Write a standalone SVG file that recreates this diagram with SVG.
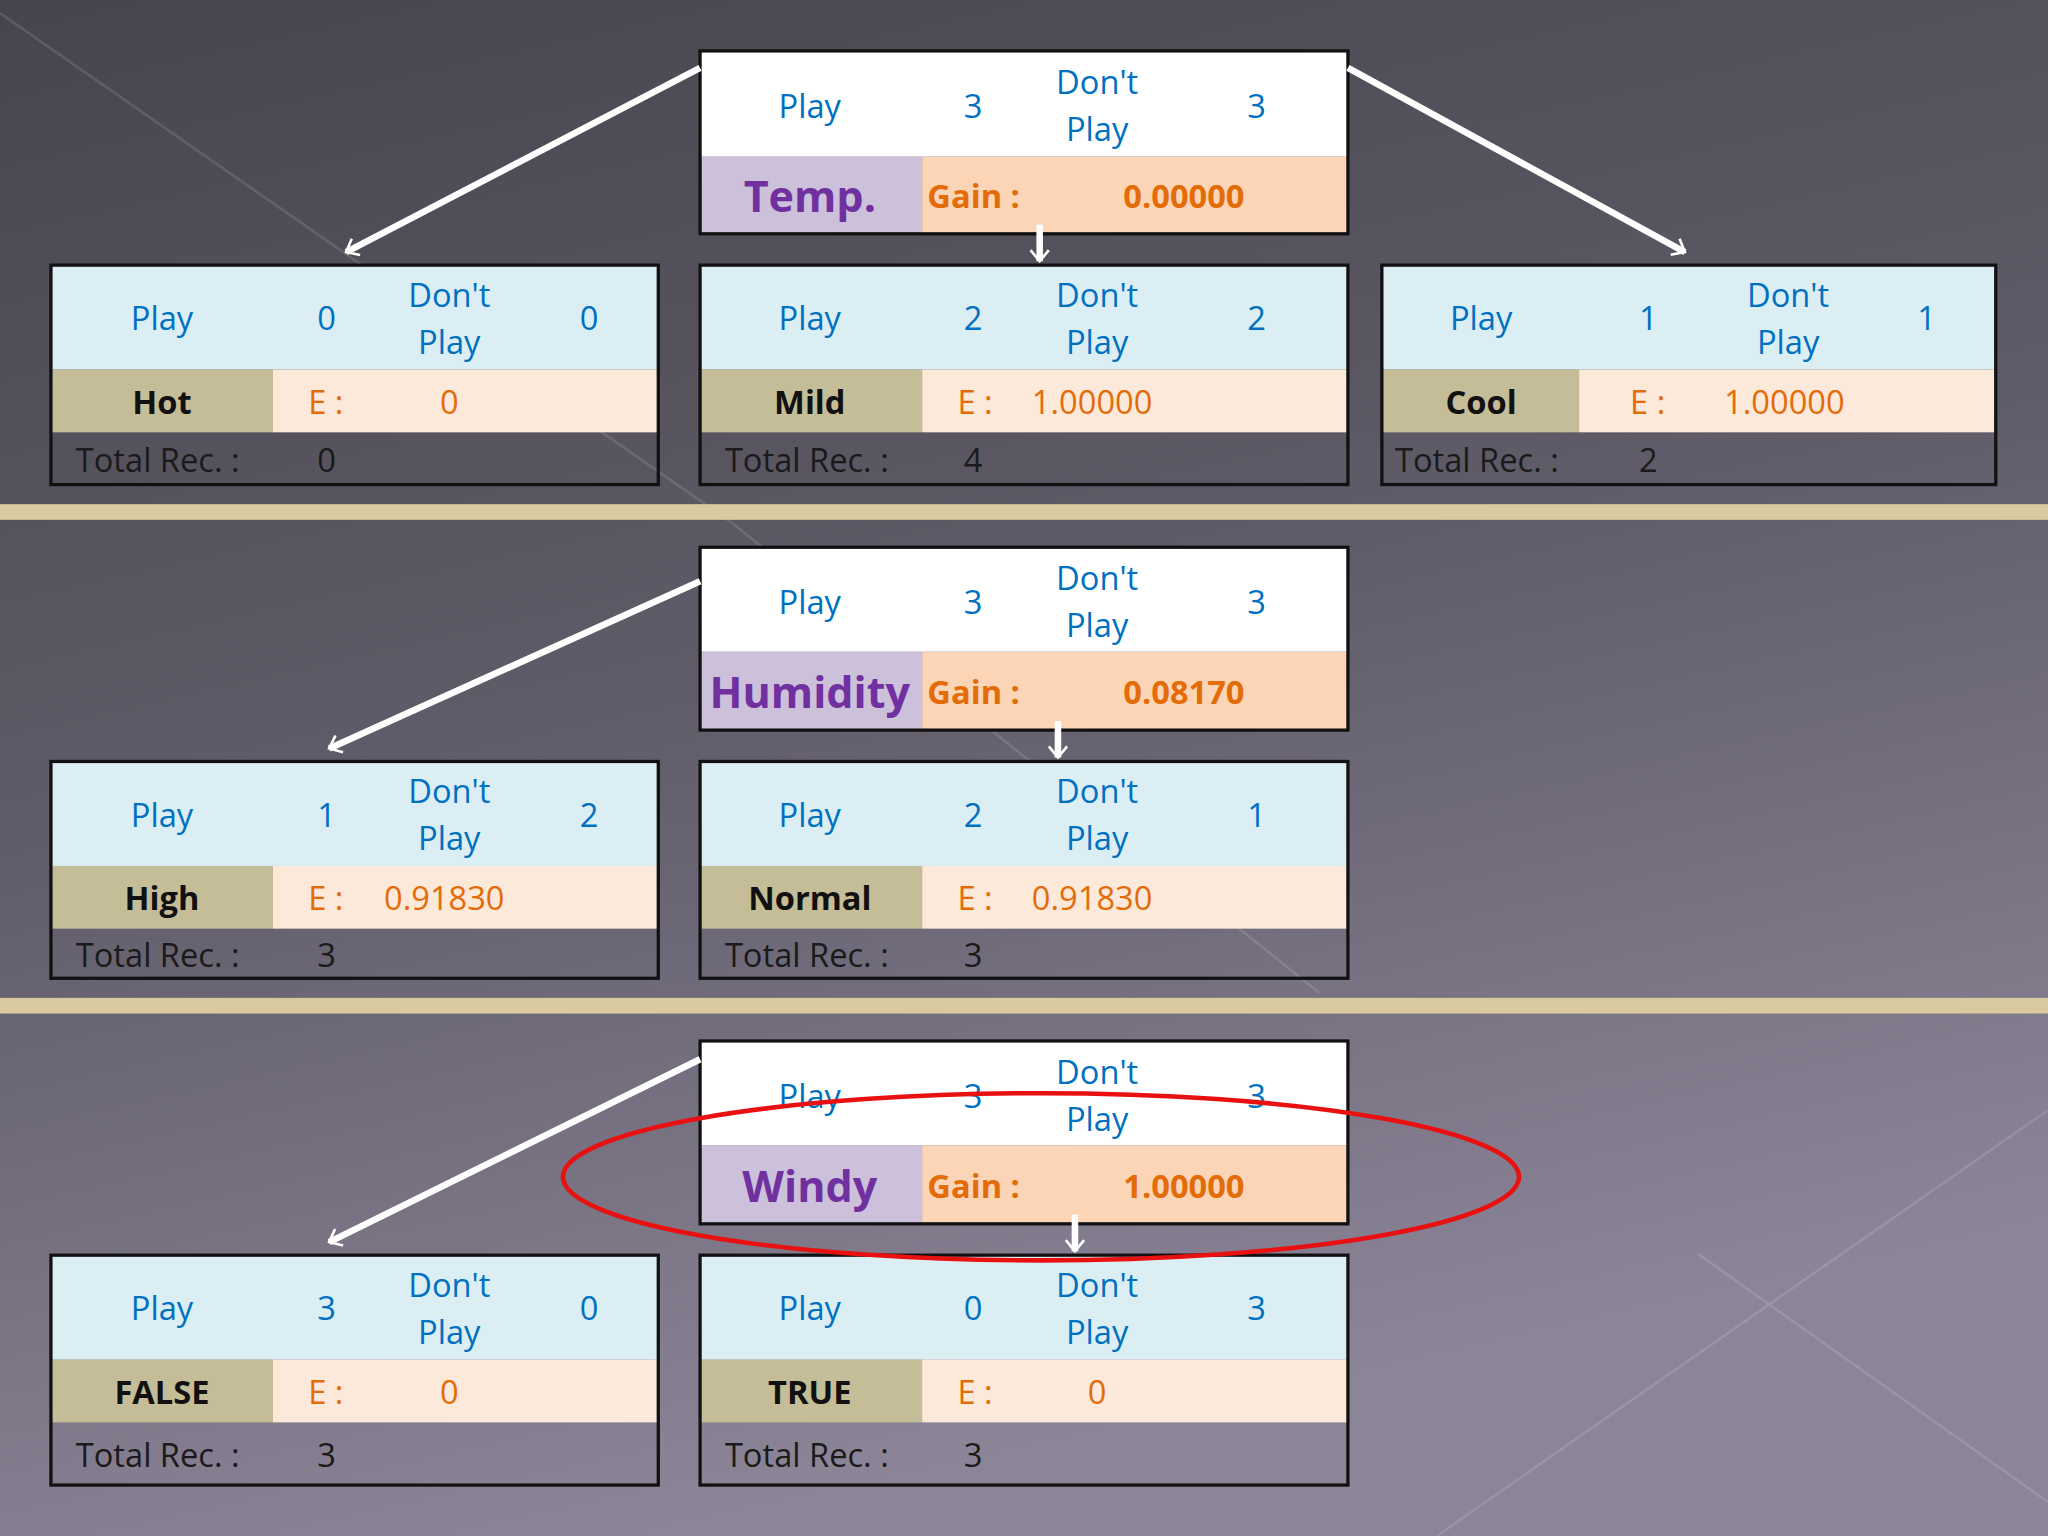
<svg xmlns="http://www.w3.org/2000/svg" width="2048" height="1536" viewBox="0 0 2048 1536">
<defs>
<linearGradient id="bg" x1="0" y1="0" x2="0.3" y2="1"><stop offset="0" stop-color="#46454d"/><stop offset="0.5" stop-color="#5f5b68"/><stop offset="1" stop-color="#8c8598"/></linearGradient>
<marker id="ah" viewBox="0 0 10 10" refX="9" refY="5" markerWidth="5" markerHeight="5" orient="auto" markerUnits="userSpaceOnUse" overflow="visible"><path d="M-8,-9 L9,5 L-8,19" fill="none" stroke="#fff" stroke-width="4"/></marker>
<style>
text{font-family:"Open Sans","Noto Sans",sans-serif;font-size:25px}
.b{fill:#0070c0;text-anchor:middle}
.o{fill:#e36c09}
.ob{fill:#e36c09;font-weight:bold}
.k{fill:#111;font-weight:bold;text-anchor:middle}
.t{fill:#1a1a1a}
.p{fill:#7030a0;font-weight:bold;font-size:33px;text-anchor:middle}
.bx{fill:none;stroke:#111;stroke-width:2.5}
.c line{stroke:#fff;stroke-width:5}
</style>
</defs>
<rect width="2048" height="1536" fill="url(#bg)"/>
<g transform="scale(1.30612)">
<g opacity="0.12" stroke="#fff" stroke-width="2" fill="none"><path d="M0,10 L560,400 L1010,760"/><path d="M1568,850 L1100,1176"/><path d="M1568,1150 L1300,960"/></g>
<rect x="0" y="386" width="1568" height="12" fill="#d9cb9f"/>
<rect x="0" y="764" width="1568" height="12" fill="#d9cb9f"/>

<g id="temp"><rect x="536" y="39" width="496" height="81" fill="#fff"/><rect x="536" y="120" width="170" height="59" fill="#ccc0da"/><rect x="706" y="120" width="326" height="59" fill="#fbd5b5"/><rect class="bx" x="536" y="39" width="496" height="140"/>
<text class="b" x="620" y="90">Play</text><text class="b" x="745" y="90">3</text><text class="b" x="840" y="72">Don't</text><text class="b" x="840" y="108">Play</text><text class="b" x="962" y="90">3</text>
<text class="p" x="620" y="162">Temp.</text><text class="ob" x="710" y="159">Gain :</text><text class="ob" x="860" y="159">0.00000</text></g>

<g id="hot"><rect x="39" y="203" width="465" height="80" fill="#dbeef4"/><rect x="39" y="283" width="170" height="48" fill="#c4bd97"/><rect x="209" y="283" width="295" height="48" fill="#fde9d9"/><rect class="bx" x="39" y="203" width="465" height="168"/>
<text class="b" x="124" y="253">Play</text><text class="b" x="250" y="253">0</text><text class="b" x="344" y="235">Don't</text><text class="b" x="344" y="271">Play</text><text class="b" x="451" y="253">0</text>
<text class="k" x="124" y="317">Hot</text><text class="o" x="236" y="317">E :</text><text class="o" x="344" y="317" text-anchor="middle">0</text>
<text class="t" x="58" y="361">Total Rec. :</text><text class="t" x="250" y="361" text-anchor="middle">0</text></g>

<g id="mild"><rect x="536" y="203" width="496" height="80" fill="#dbeef4"/><rect x="536" y="283" width="170" height="48" fill="#c4bd97"/><rect x="706" y="283" width="326" height="48" fill="#fde9d9"/><rect class="bx" x="536" y="203" width="496" height="168"/>
<text class="b" x="620" y="253">Play</text><text class="b" x="745" y="253">2</text><text class="b" x="840" y="235">Don't</text><text class="b" x="840" y="271">Play</text><text class="b" x="962" y="253">2</text>
<text class="k" x="620" y="317">Mild</text><text class="o" x="733" y="317">E :</text><text class="o" x="790" y="317">1.00000</text>
<text class="t" x="555" y="361">Total Rec. :</text><text class="t" x="745" y="361" text-anchor="middle">4</text></g>

<g id="cool"><rect x="1058" y="203" width="470" height="80" fill="#dbeef4"/><rect x="1058" y="283" width="151" height="48" fill="#c4bd97"/><rect x="1209" y="283" width="319" height="48" fill="#fde9d9"/><rect class="bx" x="1058" y="203" width="470" height="168"/>
<text class="b" x="1134" y="253">Play</text><text class="b" x="1262" y="253">1</text><text class="b" x="1369" y="235">Don't</text><text class="b" x="1369" y="271">Play</text><text class="b" x="1475" y="253">1</text>
<text class="k" x="1134" y="317">Cool</text><text class="o" x="1248" y="317">E :</text><text class="o" x="1320" y="317">1.00000</text>
<text class="t" x="1068" y="361">Total Rec. :</text><text class="t" x="1262" y="361" text-anchor="middle">2</text></g>

<g id="humidity"><rect x="536" y="419" width="496" height="80" fill="#fff"/><rect x="536" y="499" width="170" height="60" fill="#ccc0da"/><rect x="706" y="499" width="326" height="60" fill="#fbd5b5"/><rect class="bx" x="536" y="419" width="496" height="140"/>
<text class="b" x="620" y="470">Play</text><text class="b" x="745" y="470">3</text><text class="b" x="840" y="452">Don't</text><text class="b" x="840" y="488">Play</text><text class="b" x="962" y="470">3</text>
<text class="p" x="620" y="542">Humidity</text><text class="ob" x="710" y="539">Gain :</text><text class="ob" x="860" y="539">0.08170</text></g>

<g id="high"><rect x="39" y="583" width="465" height="80" fill="#dbeef4"/><rect x="39" y="663" width="170" height="48" fill="#c4bd97"/><rect x="209" y="663" width="295" height="48" fill="#fde9d9"/><rect class="bx" x="39" y="583" width="465" height="166"/>
<text class="b" x="124" y="633">Play</text><text class="b" x="250" y="633">1</text><text class="b" x="344" y="615">Don't</text><text class="b" x="344" y="651">Play</text><text class="b" x="451" y="633">2</text>
<text class="k" x="124" y="697">High</text><text class="o" x="236" y="697">E :</text><text class="o" x="294" y="697">0.91830</text>
<text class="t" x="58" y="740">Total Rec. :</text><text class="t" x="250" y="740" text-anchor="middle">3</text></g>

<g id="normal"><rect x="536" y="583" width="496" height="80" fill="#dbeef4"/><rect x="536" y="663" width="170" height="48" fill="#c4bd97"/><rect x="706" y="663" width="326" height="48" fill="#fde9d9"/><rect class="bx" x="536" y="583" width="496" height="166"/>
<text class="b" x="620" y="633">Play</text><text class="b" x="745" y="633">2</text><text class="b" x="840" y="615">Don't</text><text class="b" x="840" y="651">Play</text><text class="b" x="962" y="633">1</text>
<text class="k" x="620" y="697">Normal</text><text class="o" x="733" y="697">E :</text><text class="o" x="790" y="697">0.91830</text>
<text class="t" x="555" y="740">Total Rec. :</text><text class="t" x="745" y="740" text-anchor="middle">3</text></g>

<g id="windy"><rect x="536" y="797" width="496" height="80" fill="#fff"/><rect x="536" y="877" width="170" height="60" fill="#ccc0da"/><rect x="706" y="877" width="326" height="60" fill="#fbd5b5"/><rect class="bx" x="536" y="797" width="496" height="140"/>
<text class="b" x="620" y="848">Play</text><text class="b" x="745" y="848">3</text><text class="b" x="840" y="830">Don't</text><text class="b" x="840" y="866">Play</text><text class="b" x="962" y="848">3</text>
<text class="p" x="620" y="920">Windy</text><text class="ob" x="710" y="917">Gain :</text><text class="ob" x="860" y="917">1.00000</text></g>

<g id="false"><rect x="39" y="961" width="465" height="80" fill="#dbeef4"/><rect x="39" y="1041" width="170" height="48" fill="#c4bd97"/><rect x="209" y="1041" width="295" height="48" fill="#fde9d9"/><rect class="bx" x="39" y="961" width="465" height="176"/>
<text class="b" x="124" y="1011">Play</text><text class="b" x="250" y="1011">3</text><text class="b" x="344" y="993">Don't</text><text class="b" x="344" y="1029">Play</text><text class="b" x="451" y="1011">0</text>
<text class="k" x="124" y="1075">FALSE</text><text class="o" x="236" y="1075">E :</text><text class="o" x="344" y="1075" text-anchor="middle">0</text>
<text class="t" x="58" y="1123">Total Rec. :</text><text class="t" x="250" y="1123" text-anchor="middle">3</text></g>

<g id="true"><rect x="536" y="961" width="496" height="80" fill="#dbeef4"/><rect x="536" y="1041" width="170" height="48" fill="#c4bd97"/><rect x="706" y="1041" width="326" height="48" fill="#fde9d9"/><rect class="bx" x="536" y="961" width="496" height="176"/>
<text class="b" x="620" y="1011">Play</text><text class="b" x="745" y="1011">0</text><text class="b" x="840" y="993">Don't</text><text class="b" x="840" y="1029">Play</text><text class="b" x="962" y="1011">3</text>
<text class="k" x="620" y="1075">TRUE</text><text class="o" x="733" y="1075">E :</text><text class="o" x="840" y="1075" text-anchor="middle">0</text>
<text class="t" x="555" y="1123">Total Rec. :</text><text class="t" x="745" y="1123" text-anchor="middle">3</text></g>

<g class="c" id="connectors">
<line x1="536" y1="52" x2="265" y2="193" marker-end="url(#ah)"/>
<line x1="796" y1="172" x2="796" y2="200" marker-end="url(#ah)"/>
<line x1="1032" y1="52" x2="1290" y2="193" marker-end="url(#ah)"/>
<line x1="536" y1="445" x2="252" y2="573" marker-end="url(#ah)"/>
<line x1="810" y1="552" x2="810" y2="580" marker-end="url(#ah)"/>
<line x1="536" y1="811" x2="252" y2="951" marker-end="url(#ah)"/>
<line x1="823" y1="930" x2="823" y2="958" marker-end="url(#ah)"/>
</g>
<ellipse cx="797" cy="901" rx="366" ry="64" fill="none" stroke="#e81010" stroke-width="3.5"/>
</g>
</svg>
